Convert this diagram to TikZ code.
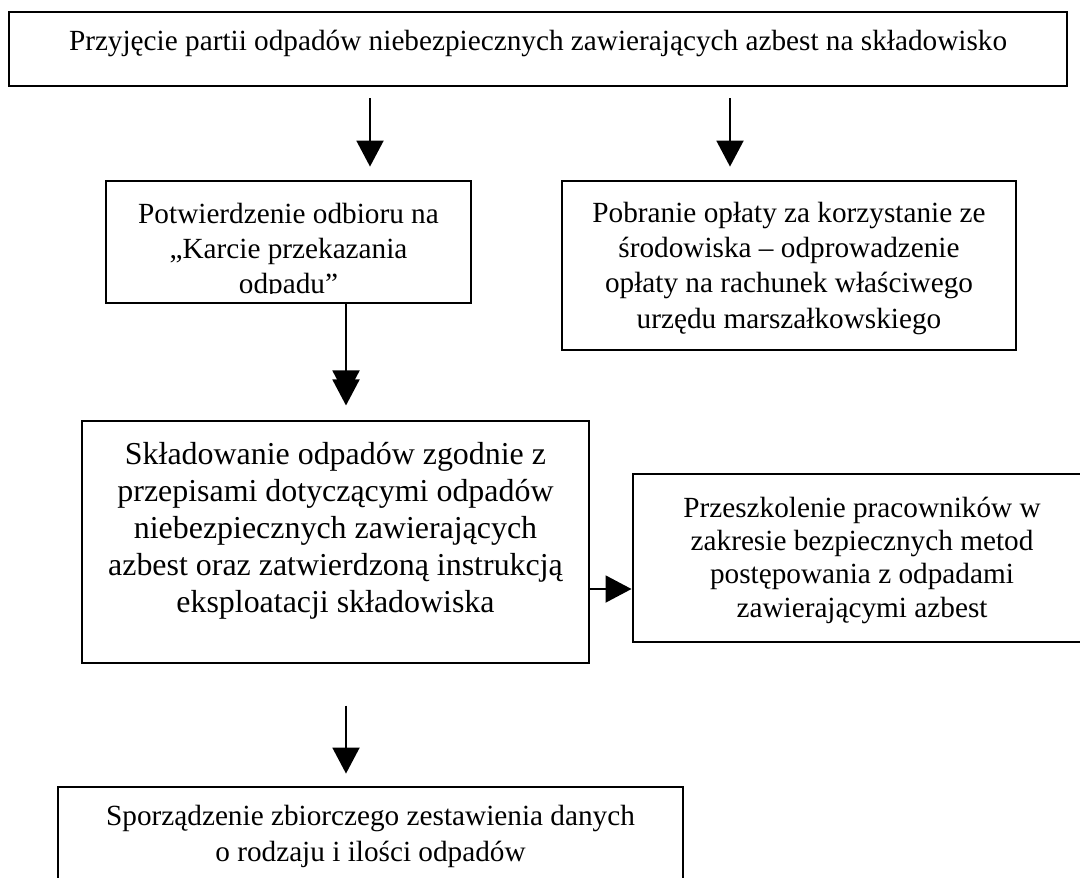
\documentclass[tikz,border=0pt]{standalone}
\usepackage{fontspec}
\setmainfont{Liberation Serif}
\usetikzlibrary{arrows.meta,fit,positioning}
\tikzset{
  box/.style={draw,line width=2.1pt,inner sep=0pt},
  txt/.style={align=center,inner sep=0pt,font=\fontsize{20.8}{#1}\selectfont},
  bigtxt/.style={align=center,inner sep=0pt,font=\fontsize{22.7}{26.3}\selectfont},
  arr/.style={line width=1.4pt,-{Triangle[length=18.5pt,width=19.2pt]}},
  arrtwo/.style={line width=1.4pt,-{Triangle[length=18.5pt,width=19.2pt,sep=-12.1pt]Triangle[length=18.5pt,width=19.2pt]}}
}

\begin{document}
\begin{tikzpicture}[x=0.025cm,y=-0.025cm]
        \useasboundingbox (0,0) rectangle (1080,877);
        % boxes
        \node[box,fit={(9,12) (1067,86)}] (top) {};
        \node[box,fit={(106,181) (471,303)}] (b2) {};
        \node[box,fit={(562,181) (1016,350)}] (b3) {};
        \node[box,fit={(82,421) (589,663)}] (b4) {};
        \node[box,fit={(633,474) (1091,642)}] (b5) {};
        \node[box,fit={(58,787) (683,910)}] (b6) {};
        % texts
        \node[txt=25.3pt,below=14.1pt of top.north] (ttop) {Przyjęcie partii odpadów niebezpiecznych zawierających azbest na składowisko};
        \begin{scope}
            \clip (106,181) rectangle (471,293);
            \node[txt=25.2pt,below=16.3pt of b2.north] (tb2) {Potwierdzenie odbioru na\\„Karcie przekazania\\odpadu”};
        \end{scope}
        \node[txt=25.2pt,below=15.6pt of b3.north] (tb3) {Pobranie opłaty za korzystanie ze\\środowiska – odprowadzenie\\opłaty na rachunek właściwego\\urzędu marszałkowskiego};
        \node[bigtxt,below=16.3pt of b4.north] (tb4) {Składowanie odpadów zgodnie z\\przepisami dotyczącymi odpadów\\niebezpiecznych zawierających\\azbest oraz zatwierdzoną instrukcją\\eksploatacji składowiska};
        \node[txt=23.7pt,below=17.1pt of b5.north] (tb5) {Przeszkolenie pracowników w\\zakresie bezpiecznych metod\\postępowania z odpadami\\zawierającymi azbest};
        \node[txt=25.6pt,below=13.5pt of b6.north] (tb6) {Sporządzenie zbiorczego zestawienia danych\\o rodzaju i ilości odpadów};
        % arrows
        \coordinate (xa) at (370,0);
        \coordinate (xb) at (730,0);
        \coordinate (xc) at (346,0);
        \coordinate (ya) at (0,589);
        \draw[arr,shorten <=7.8pt,shorten >=9.2pt] (top.south -| xa) -- (b2.north -| xa);
        \draw[arr,shorten <=7.8pt,shorten >=9.2pt] (top.south -| xb) -- (b3.north -| xb);
        \draw[arrtwo,shorten >=10pt] (b2.south -| xc) -- (b4.north -| xc);
        \draw[arr] (b4.east |- ya) -- (b5.west |- ya);
        \draw[arr,shorten <=29.2pt,shorten >=8.5pt] (b4.south -| xc) -- (b6.north -| xc);
\end{tikzpicture}
\end{document}
